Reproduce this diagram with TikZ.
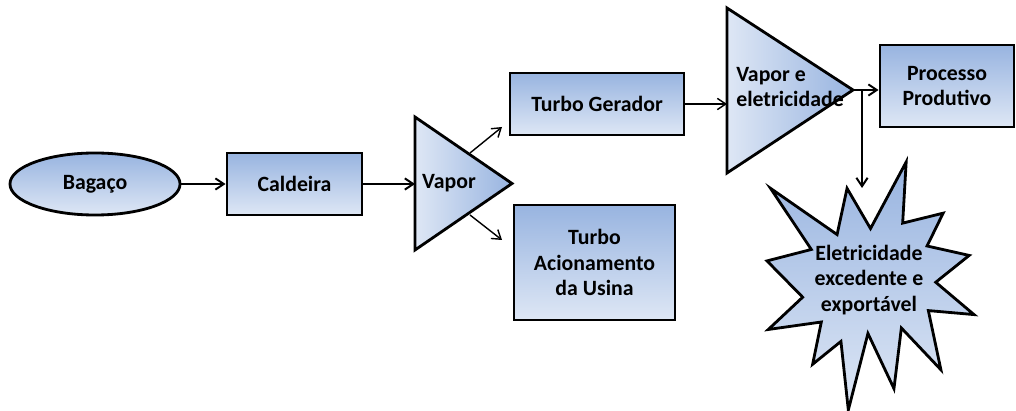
\documentclass[tikz,border=0pt]{standalone}
\usepackage{fontspec}
\setmainfont{Carlito}
\usetikzlibrary{shapes.geometric,arrows.meta}
\definecolor{fillTop}{RGB}{152,180,224}
\definecolor{fillBot}{RGB}{222,231,245}
\begin{document}
\begin{tikzpicture}[x=0.025cm, y=-0.025cm]
\tikzset{ >={Straight Barb[length=6pt,width=8pt]},
  box/.style={draw, line width=2pt, top color=fillTop, bottom color=fillBot, align=center, inner sep=0pt},
  txt/.style={font=\fontsize{15.5}{18}\selectfont\bfseries, align=center, inner sep=0pt},
  flow/.style={->, line width=1.4pt},
  thin flow/.style={->, line width=1pt} }

\useasboundingbox (0,0) rectangle (1016,411);

%\draw [lightgray, dashed](0,0) grid[step=50] (1016,411);

\node [box, ellipse, minimum width=4.25cm, minimum height=1.55cm, txt] (B)  at (95,184)    {Bagaço};
\node [box, minimum width=3.375cm, minimum height=1.55cm, txt]        (C)  at (294.5,184)  {Caldeira};
\node [box, minimum width=4.35cm, minimum height=1.55cm, txt]         (TG) at (597,104)    {Turbo Gerador};
\node [box, minimum width=4.025cm, minimum height=2.875cm, txt]       (TA) at (594.5,262.5){Turbo\\Acionamento\\da Usina};
\node [box, minimum width=3.35cm, minimum height=2.05cm, txt]         (PP) at (947,86)     {Processo\\Produtivo};

% triangles
\coordinate (V1) at (415,117);
\coordinate (V2) at (512,183.5);
\coordinate (V3) at (415,250);
\shade [draw, line width=2pt, line join=miter, left color=fillBot, right color=fillTop] (V1) -- (V2) -- (V3) -- cycle;
\node [txt] (V) at (449,183) {Vapor};

\coordinate (W1) at (727,8);
\coordinate (W2) at (853,90);
\coordinate (W3) at (727,173);
\shade [draw, line width=2pt, line join=miter, left color=fillBot, right color=fillTop] (W1) -- (W2) -- (W3) -- cycle;
\node [txt, align=left] (E) at (790,87) {Vapor e\\eletricidade};

% star
\begin{scope}[shift={(767,162)}, xscale=0.9583, yscale=1.1481]
\shade [draw, line width=2pt, line join=miter, top color=fillTop, bottom color=fillBot]
 (108,58) -- (145.22,0) -- (141.55,53.25) -- (183.80,44.57) -- (167.02,73.15)
 -- (210.97,81.37) -- (176.07,104.75) -- (216,132.90) -- (168.37,129.42)
 -- (181.45,180.95) -- (140.20,144.57) -- (132.47,197.37) -- (105.32,149.35)
 -- (84.85,216) -- (77.15,156.27) -- (47.62,176.17) -- (56.67,139.37)
 -- (1.35,145.87) -- (37.22,117.75) -- (0,86.15) -- (46.27,76.17)
 -- (3.70,22.95) -- (73.12,63.20) -- (83.52,22.95) -- cycle;
\end{scope}
\node [txt] (X) at (869,280) {Eletricidade\\excedente e\\exportável};

% connectors
\coordinate (VU) at (470,153);
\coordinate (VD) at (470,215);
\coordinate (TGin) at (502,127);
\coordinate (TAin) at (502,240);
\coordinate (Wdown) at (862,90);
\coordinate (Xin) at (862,188);

\draw [flow] (B) -- (C);
\draw [flow] (C.east) -- (C.east -| V1);
\draw [thin flow] (VU) -- (TGin);
\draw [thin flow] (VD) -- (TAin);
\draw [thin flow] (TG.east) -- (TG.east -| W1);
\draw [flow] (W2) -- (W2 -| PP.west);
\draw [flow] (Wdown) -- (Xin);
\end{tikzpicture}
\end{document}
